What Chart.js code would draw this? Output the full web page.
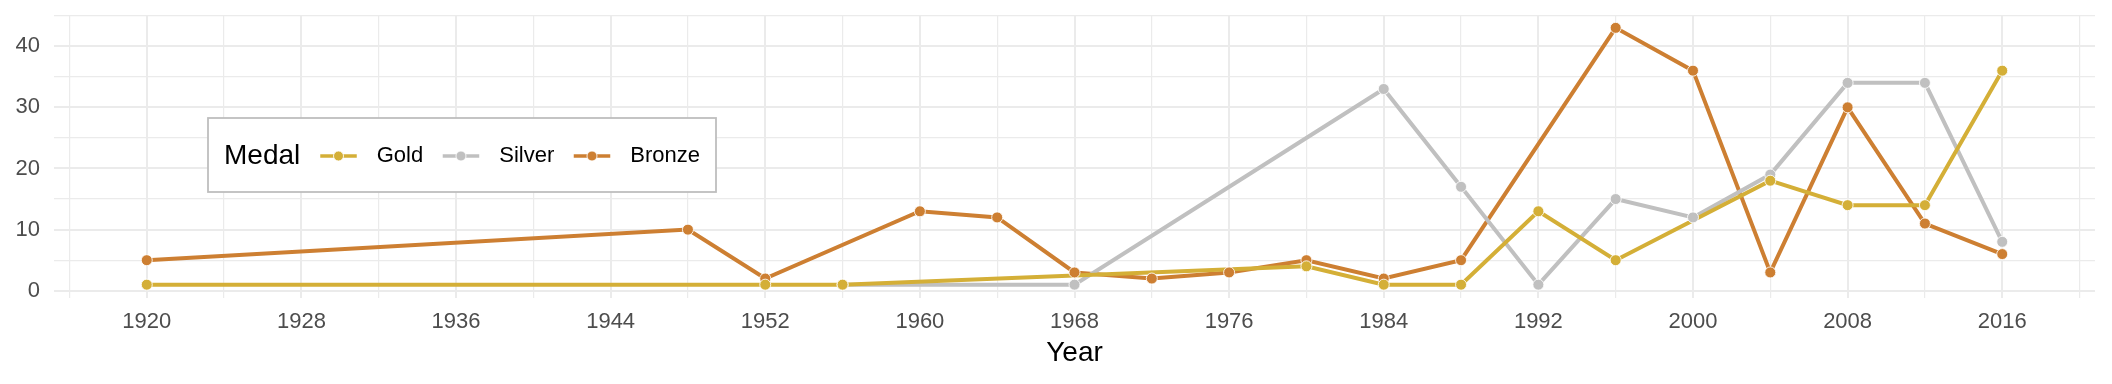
<!DOCTYPE html>
<html>
<head>
<meta charset="utf-8">
<script src="https://cdn.jsdelivr.net/npm/chart.js@4.4.1/dist/chart.umd.min.js"></script>
<style>
  html, body { margin: 0; padding: 0; background: #ffffff; }
  #wrap { width: 2112px; height: 384px; }
</style>
</head>
<body>
<div id="wrap"><canvas id="c" width="2112" height="384"></canvas></div>
<script>
// ---- data ----
const seriesNames = ['Gold', 'Silver', 'Bronze'];
const seriesColors = ['#D4AF37', '#C0C0C0', '#CD7F32'];

const goldYears   = [1920, 1952, 1956, 1980, 1984, 1988, 1992, 1996, 2004, 2008, 2012, 2016];
const goldCounts  = [1, 1, 1, 4, 1, 1, 13, 5, 18, 14, 14, 36];

const silverYears  = [1956, 1968, 1984, 1988, 1992, 1996, 2000, 2004, 2008, 2012, 2016];
const silverCounts = [1, 1, 33, 17, 1, 15, 12, 19, 34, 34, 8];

const bronzeYears  = [1920, 1948, 1952, 1960, 1964, 1968, 1972, 1976, 1980, 1984, 1988, 1996, 2000, 2004, 2008, 2012, 2016];
const bronzeCounts = [5, 10, 2, 13, 12, 3, 2, 3, 5, 2, 5, 43, 36, 3, 30, 11, 6];

const xMajorTicks = [1920, 1928, 1936, 1944, 1952, 1960, 1968, 1976, 1984, 1992, 2000, 2008, 2016];
const xMinorTicks = [1916, 1924, 1932, 1940, 1948, 1956, 1964, 1972, 1980, 1988, 1996, 2004, 2012, 2020];
const yMajorTicks = [0, 10, 20, 30, 40];
const yMinorTicks = [5, 15, 25, 35, 45];

const xTitle = 'Year';
const legendTitle = 'Medal';

// ---- build ----
const yearsList = [goldYears, silverYears, bronzeYears];
const countsList = [goldCounts, silverCounts, bronzeCounts];
function pts(i) { return yearsList[i].map((y, k) => ({ x: y, y: countsList[i][k] })); }

const datasets = [];
// points on top of all lines (order: Gold on top)
seriesNames.forEach((n, i) => {
  datasets.push({
    label: n + ' points', data: pts(i), showLine: false,
    pointRadius: 5.5, pointHoverRadius: 5.5,
    pointBackgroundColor: seriesColors[i], pointBorderColor: 'rgba(255,255,255,0.85)', pointBorderWidth: 1,
    order: i
  });
});
seriesNames.forEach((n, i) => {
  datasets.push({
    label: n, data: pts(i), showLine: true,
    borderColor: seriesColors[i], borderWidth: 4, pointRadius: 0, pointHoverRadius: 0,
    order: 10 + i
  });
});

function sortedTicks(a, b) { return a.concat(b).sort((p, q) => p - q).map(v => ({ value: v })); }
function noPad(s) { s.paddingTop = 0; s.paddingBottom = 0; s.paddingLeft = 0; s.paddingRight = 0; }

const FONT = "'Liberation Sans', Arial, Helvetica, sans-serif";

const legendPlugin = {
  id: 'insideLegend',
  afterDraw(chart) {
    const ctx = chart.ctx;
    const box = { x: 208, y: 118, w: 508, h: 74 };
    ctx.save();
    ctx.fillStyle = '#ffffff';
    ctx.fillRect(box.x, box.y, box.w, box.h);
    ctx.strokeStyle = '#BEBEBE';
    ctx.lineWidth = 1.8;
    ctx.strokeRect(box.x, box.y, box.w, box.h);
    const cy = box.y + box.h / 2 + 1;
    ctx.textBaseline = 'middle';
    ctx.textAlign = 'left';
    ctx.fillStyle = '#000000';
    ctx.font = '28px ' + FONT;
    let x = box.x + 16;
    ctx.fillText(legendTitle, x, cy);
    x += ctx.measureText(legendTitle).width + 20;
    ctx.font = '22px ' + FONT;
    seriesNames.forEach((n, i) => {
      const kw = 36.5;
      ctx.strokeStyle = seriesColors[i];
      ctx.lineWidth = 3.5;
      ctx.beginPath();
      ctx.moveTo(x, cy); ctx.lineTo(x + kw, cy); ctx.stroke();
      ctx.beginPath();
      ctx.arc(x + kw / 2, cy, 5, 0, Math.PI * 2);
      ctx.fillStyle = seriesColors[i];
      ctx.fill();
      ctx.strokeStyle = 'rgba(255,255,255,0.85)';
      ctx.lineWidth = 1;
      ctx.stroke();
      x += kw + 20;
      ctx.fillStyle = '#000000';
      ctx.fillText(n, x, cy);
      x += ctx.measureText(n).width + 19.5;
    });
    ctx.restore();
  }
};

new Chart(document.getElementById('c'), {
  type: 'scatter',
  data: { datasets },
  plugins: [legendPlugin],
  options: {
    responsive: false,
    animation: false,
    devicePixelRatio: 1,
    layout: { padding: { left: 0, top: 15, right: 17, bottom: 0 } },
    plugins: { legend: { display: false }, tooltip: { enabled: false } },
    scales: {
      x: {
        type: 'linear', min: 1915.2, max: 2020.8,
        afterBuildTicks(s) { s.ticks = sortedTicks(xMajorTicks, xMinorTicks); },
        afterFit(s) { s.height = 86.5; noPad(s); },
        border: { display: false },
        grid: {
          drawTicks: false,
          color: '#EBEBEB',
          lineWidth: c => (xMajorTicks.includes(c.tick && c.tick.value) ? 2 : 1.2)
        },
        ticks: {
          autoSkip: false, maxRotation: 0, padding: 11,
          color: '#4D4D4D', font: { family: FONT, size: 22 },
          callback: v => (xMajorTicks.includes(v) ? String(v) : '')
        },
        title: {
          display: true, text: xTitle, color: '#000000',
          font: { family: FONT, size: 28 }, padding: { top: 0, bottom: 14 }
        }
      },
      y: {
        type: 'linear', min: -1.1, max: 45.1,
        afterBuildTicks(s) { s.ticks = sortedTicks(yMajorTicks, yMinorTicks); },
        afterFit(s) { s.width = 54; noPad(s); },
        border: { display: false },
        grid: {
          drawTicks: false,
          color: '#EBEBEB',
          lineWidth: c => (yMajorTicks.includes(c.tick && c.tick.value) ? 2 : 1.2)
        },
        ticks: {
          padding: 14,
          color: '#4D4D4D', font: { family: FONT, size: 22 },
          callback: v => (yMajorTicks.includes(v) ? String(v) : '')
        }
      }
    }
  }
});
</script>
</body>
</html>
